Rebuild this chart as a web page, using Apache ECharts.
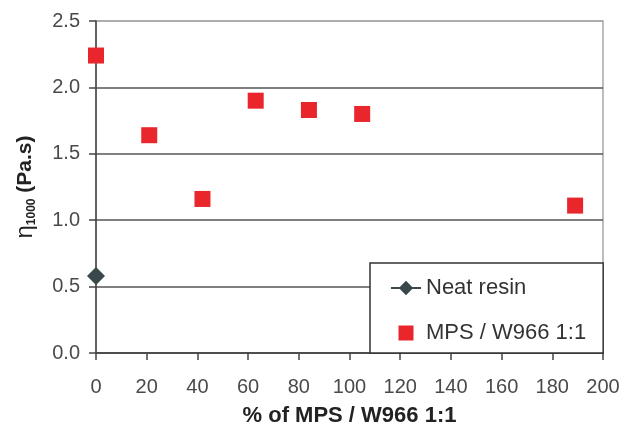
<!DOCTYPE html>
<html>
<head>
<meta charset="utf-8">
<script src="https://cdn.jsdelivr.net/npm/echarts@6/dist/echarts.min.js"></script>
<style>
  html, body { margin: 0; padding: 0; background: #fff; }
  #main { width: 624px; height: 425px; }
</style>
</head>
<body>
<div id="main"></div>
<script>
var chart = echarts.init(document.getElementById('main'));

// values
var neatX = [0];
var neatY = [0.58];
var mpsX = [0, 21, 42, 63, 84, 105, 189];
var mpsY = [2.24, 1.64, 1.16, 1.90, 1.83, 1.80, 1.11];

var FONT = 'Liberation Sans';

function pairs(xs, ys) {
    return xs.map(function (x, i) { return [x, ys[i]]; });
}

var option = {
    animation: false,
    backgroundColor: '#fff',
    textStyle: { fontFamily: FONT },
    grid: {
        left: 96, right: 21, top: 21, bottom: 72,
        outerBoundsMode: 'none',
        show: true,
        borderColor: '#a8a8a8',
        borderWidth: 1.5
    },
    legend: {
        orient: 'vertical',
        left: 370,
        top: 263,
        padding: [14, 17, 9, 20],
        itemWidth: 30,
        itemHeight: 18,
        itemGap: 23,
        backgroundColor: '#fff',
        borderColor: '#333',
        borderWidth: 1.5,
        borderRadius: 0,
        textStyle: { fontFamily: FONT, fontSize: 22, color: '#333' },
        data: [
            { name: 'Neat resin' },
            // square centred in the icon slot
            { name: 'MPS / W966 1:1', icon: 'path://M0,0M30,18M7.5,1.5h15v15h-15z' }
        ]
    },
    xAxis: {
        type: 'value',
        min: 0, max: 200, interval: 20,
        name: '% of MPS / W966 1:1',
        nameLocation: 'middle',
        nameGap: 52,
        nameTextStyle: { fontFamily: FONT, fontSize: 22, fontWeight: 'bold', color: '#222' },
        axisLine: { show: true, lineStyle: { color: '#444', width: 1.5 } },
        axisTick: { show: true, length: 7, lineStyle: { color: '#444', width: 1.5 } },
        axisLabel: { fontFamily: FONT, fontSize: 20, color: '#4a4a4a', margin: 24 },
        splitLine: { show: false }
    },
    yAxis: {
        type: 'value',
        min: 0, max: 2.5, interval: 0.5,
        name: '{e|η}{s|1000}{b| (Pa.s)}',
        nameLocation: 'middle',
        nameGap: 58,
        nameTextStyle: {
            color: '#222',
            rich: {
                e: { fontFamily: FONT, fontSize: 24, color: '#222', lineHeight: 26 },
                s: { fontFamily: FONT, fontSize: 12, color: '#222', fontWeight: 'bold', lineHeight: 26, verticalAlign: 'bottom', padding: [8, 0, 0, 0] },
                b: { fontFamily: FONT, fontSize: 21, color: '#222', fontWeight: 'bold', lineHeight: 26 }
            }
        },
        axisLine: { show: true, lineStyle: { color: '#444', width: 1.5 } },
        axisTick: { show: true, length: 7, lineStyle: { color: '#444', width: 1.5 } },
        axisLabel: {
            fontFamily: FONT, fontSize: 20, color: '#4a4a4a', margin: 16,
            formatter: function (v) { return v.toFixed(1); }
        },
        splitLine: {
            show: true,
            lineStyle: { color: ['#555', '#555', '#555', '#555', '#555', '#a8a8a8'], width: 1.5 }
        }
    },
    series: [
        {
            name: 'Neat resin',
            type: 'line',
            data: pairs(neatX, neatY),
            symbol: 'diamond',
            symbolSize: 18,
            itemStyle: { color: '#3a474b', opacity: 1 },
            lineStyle: { color: '#3a474b', width: 1.5 },
            z: 3
        },
        {
            name: 'MPS / W966 1:1',
            type: 'scatter',
            data: pairs(mpsX, mpsY),
            symbol: 'rect',
            symbolSize: 16,
            itemStyle: { color: '#e8262b', opacity: 1 },
            z: 3
        }
    ]
};

chart.setOption(option);
</script>
</body>
</html>
